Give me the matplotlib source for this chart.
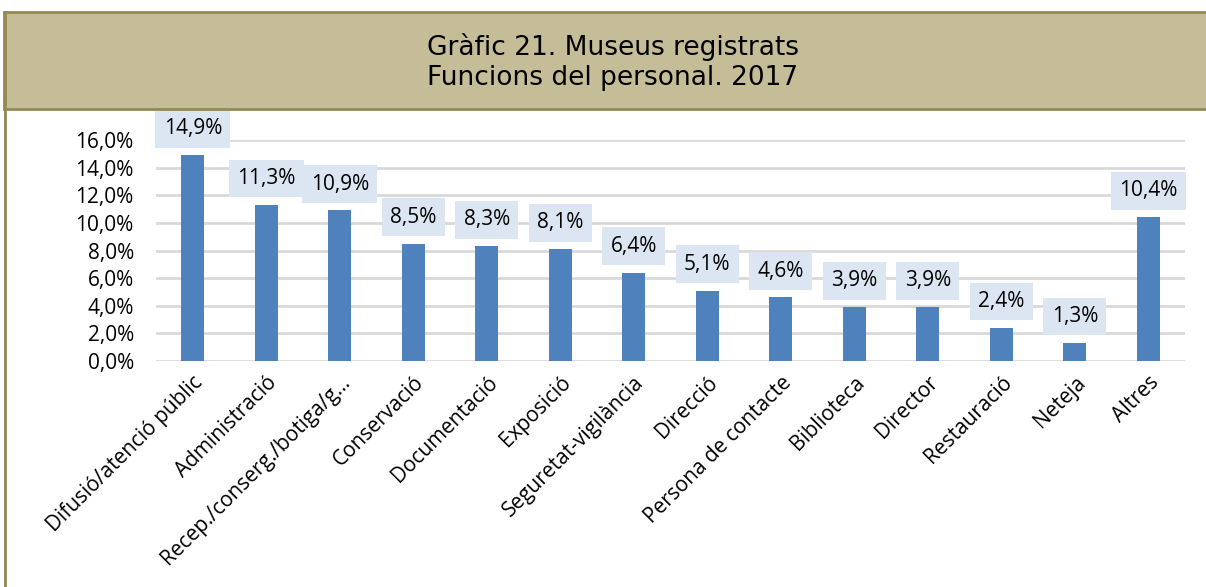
import matplotlib.pyplot as plt
from matplotlib.patches import Rectangle
from matplotlib.lines import Line2D

categories = ["Difusió/atenció públic", "Administració", "Recep./conserg./botiga/g...",
              "Conservació", "Documentació", "Exposició", "Seguretat-vigilància",
              "Direcció", "Persona de contacte", "Biblioteca", "Director",
              "Restauració", "Neteja", "Altres"]
values = [14.9, 11.3, 10.9, 8.5, 8.3, 8.1, 6.4, 5.1, 4.6, 3.9, 3.9, 2.4, 1.3, 10.4]
yticks = [0, 2, 4, 6, 8, 10, 12, 14, 16]

W, H = 1206, 587
fig = plt.figure(figsize=(W / 100, H / 100), dpi=100)

# title banner
olive = "#938953"
fig.patches.append(Rectangle((4 / W, 1 - 109 / H), 1.1, 97 / H, transform=fig.transFigure,
                             facecolor="#C4BD97", edgecolor=olive, linewidth=2, zorder=0))
fig.lines.append(Line2D([5 / W, 5 / W], [0, 1 - 12 / H], transform=fig.transFigure,
                        color=olive, linewidth=2))
fig.text(0.508, 1 - 62 / H, "Gràfic 21. Museus registrats\nFuncions del personal. 2017",
         ha="center", va="center", fontsize=19, linespacing=1.2, family="DejaVu Sans")

ax = fig.add_axes([156 / W, 226 / H, (1185 - 156) / W, (361 - 140) / H])
x = range(len(categories))
ax.bar(x, values, width=0.31, color="#4F81BD", zorder=3)
ax.set_xlim(-0.5, len(categories) - 0.5)
ax.set_ylim(0, 16)
ax.set_yticks(yticks)
ax.set_yticklabels([f"{v:.1f}%".replace(".", ",") for v in yticks], fontsize=15,
                   family="Open Sans")
ax.yaxis.grid(True, color="#D9D9D9", linewidth=2, zorder=0)
ax.set_axisbelow(True)
ax.tick_params(axis="y", length=0, pad=16)
ax.tick_params(axis="x", length=0, pad=8)
ax.set_xticks(list(x))
ax.set_xticklabels(categories, rotation=45, ha="right", rotation_mode="anchor",
                   fontsize=15, family="Open Sans")
for s in ax.spines.values():
    s.set_visible(False)

for i, v in enumerate(values):
    ax.annotate(f"{v:.1f}%".replace(".", ","), (i, v), xytext=(0, 19), textcoords="offset points",
                ha="center", va="center", fontsize=15, family="Open Sans", zorder=4,
                bbox=dict(boxstyle="square,pad=0.4", facecolor="#DCE6F2", edgecolor="none"))

fig.savefig("out.png", dpi=100)
